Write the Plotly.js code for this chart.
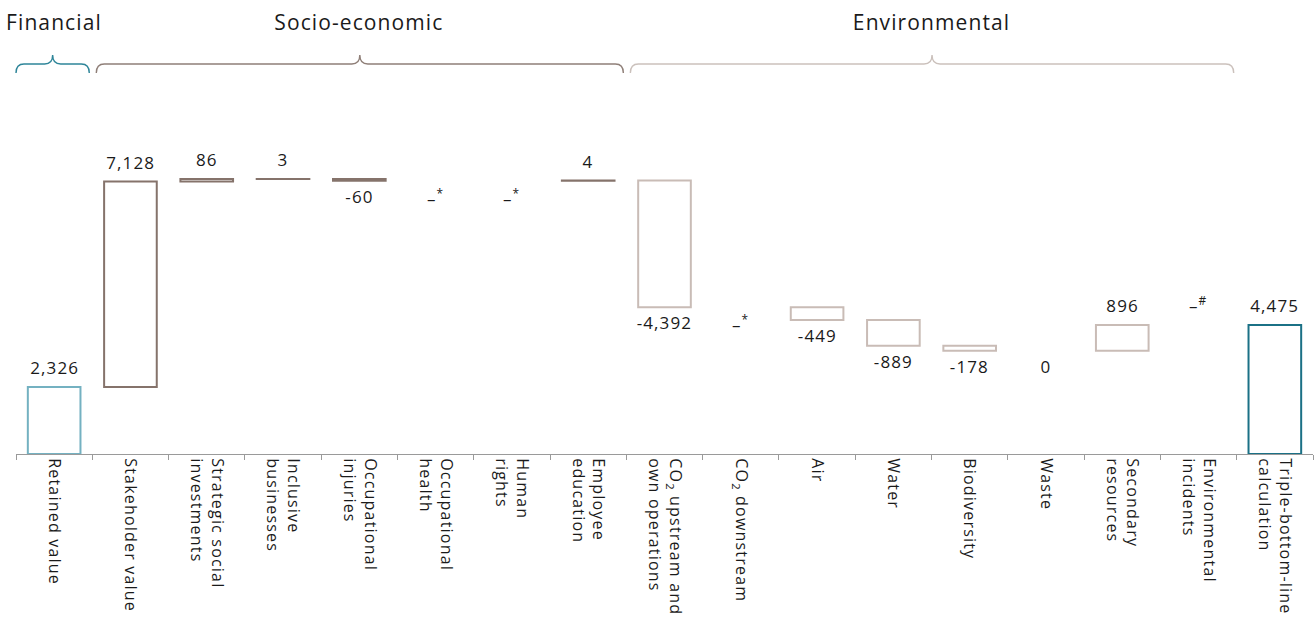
<!DOCTYPE html>
<html><head><meta charset="utf-8">
<script src="https://cdn.plot.ly/plotly-3.0.1.min.js"></script>
<style>
html,body{margin:0;padding:0;background:#fff}
#chart .xtick text{letter-spacing:1.2px}
#chart .annotation-text{letter-spacing:1.1px}
</style>
</head><body><div id="chart" style="width:1315px;height:619px"></div>
<script>
// ---- data ----
const categories = ['Retained value', 'Stakeholder value', 'Strategic social<br>investments', 'Inclusive<br>businesses',
  'Occupational<br>injuries', 'Occupational<br>health', 'Human<br>rights', 'Employee<br>education',
  'CO<sub>2</sub> upstream and<br>own operations', 'CO<sub>2</sub> downstream', 'Air', 'Water', 'Biodiversity',
  'Waste', 'Secondary<br>resources', 'Environmental<br>incidents', 'Triple-bottom-line<br>calculation'];
const values = [2326, 7128, 86, 3, -60, 0, 0, 4, -4392, 0, -449, -889, -178, 0, 896, 0, 4475];
const measures = ['absolute', 'relative', 'relative', 'relative', 'relative', 'relative', 'relative', 'relative',
  'relative', 'relative', 'relative', 'relative', 'relative', 'relative', 'relative', 'relative', 'total'];
const notes = ['', '', '', '', '', '*', '*', '', '', '*', '', '', '', '', '', '#', ''];
const barGroup = ['start', 'socio', 'socio', 'socio', 'socio', 'socio', 'socio', 'socio',
  'env', 'env', 'env', 'env', 'env', 'env', 'env', 'env', 'total'];
const groupNames = ['Financial', 'Socio-economic', 'Environmental'];
const groupFirst = [0, 1, 8];
const groupLast = [0, 7, 15];

// ---- styles ----
const barColorMap = {start: '#74b1c1', socio: '#85736b', env: '#c9bcb6', total: '#1b7186'};
const braceColors = ['#2e8599', '#8f7f78', '#cbc1bc'];
const FONT = 'Open Sans, Noto Sans, sans-serif';

// ---- waterfall geometry ----
let running = 0;
const bases = [], heights = [];
values.forEach((v, i) => {
  if (measures[i] === 'absolute') { bases.push(0); heights.push(v); running = v; }
  else if (measures[i] === 'total') { bases.push(0); heights.push(running); }
  else { bases.push(running); heights.push(v); running += v; }
});
const lineColors = values.map((v, i) => v === 0 && measures[i] === 'relative' ? 'rgba(0,0,0,0)' : barColorMap[barGroup[i]]);

function fmt(v) {
  const s = Math.abs(v).toString().replace(/\B(?=(\d{3})+(?!\d))/g, ',');
  return (v < 0 ? '-' : '') + s;
}

// label direction: positive -> above, negative -> below, zero -> follow last non-zero step
const annotations = [];
let lastDir = 1;
values.forEach((v, i) => {
  let dir = v > 0 ? 1 : (v < 0 ? -1 : lastDir);
  if (v !== 0) lastDir = dir;
  const lo = Math.min(bases[i], bases[i] + heights[i]);
  const hi = Math.max(bases[i], bases[i] + heights[i]);
  const txt = (v === 0 && notes[i]) ? '–<sup>' + notes[i] + '</sup>' : fmt(v);
  annotations.push({
    x: categories[i], y: dir > 0 ? hi : lo, xref: 'x', yref: 'y',
    text: txt, showarrow: false,
    yanchor: dir > 0 ? 'bottom' : 'top', yshift: dir > 0 ? 6 : -2,
    font: {family: FONT, size: 17, color: '#1a1a1a'}
  });
});

// ---- group headers and braces (paper coordinates) ----
const L = 16, R = 2, T = 90, B = 165, W = 1315, H = 619;
const pw = W - L - R, ph = H - T - B, n = categories.length;
const px = X => (X - L) / pw;
const py = Y => (H - B - Y) / ph;
const shapes = [];
groupNames.forEach((g, k) => {
  const xL = L + groupFirst[k] * pw / n + (k === 0 ? 0 : 4);
  const xR = L + (groupLast[k] + 1) * pw / n - 3;
  const xm = (xL + xR) / 2;
  const yE = 73, yH = 64, yP = 55, r = 8;
  const P = (X, Y) => px(X).toFixed(5) + ',' + py(Y).toFixed(5);
  const path = 'M' + P(xL, yE) + ' Q' + P(xL, yH) + ' ' + P(xL + r, yH) +
    ' L' + P(xm - r, yH) + ' Q' + P(xm, yH) + ' ' + P(xm, yP) +
    ' Q' + P(xm, yH) + ' ' + P(xm + r, yH) + ' L' + P(xR - r, yH) +
    ' Q' + P(xR, yH) + ' ' + P(xR, yE);
  shapes.push({type: 'path', xref: 'paper', yref: 'paper', path: path,
    line: {color: braceColors[k], width: 1.4}});
  annotations.push({
    x: px((L + groupFirst[k] * pw / n + L + (groupLast[k] + 1) * pw / n) / 2), y: py(22),
    xref: 'paper', yref: 'paper', text: g, showarrow: false,
    xanchor: 'center', yanchor: 'middle',
    font: {family: FONT, size: 21, color: '#1a1a1a'}
  });
});

const trace = {
  type: 'bar', x: categories, y: heights, base: bases, width: 0.69,
  marker: {color: 'rgba(255,255,255,0)', line: {color: lineColors, width: 2}},
  hoverinfo: 'skip', showlegend: false
};

const layout = {
  width: W, height: H,
  margin: {l: L, r: R, t: T, b: B, pad: 0},
  paper_bgcolor: '#fff', plot_bgcolor: '#fff',
  font: {family: FONT, size: 16, color: '#1a1a1a'},
  showlegend: false,
  xaxis: {
    type: 'category', tickangle: 90, automargin: false,
    showline: true, linecolor: '#9a9a9a', linewidth: 1,
    ticks: 'outside', tickson: 'boundaries', ticklen: 5, tickcolor: '#9a9a9a', tickwidth: 1,
    showgrid: false, tickfont: {family: FONT, size: 16, color: '#1a1a1a'}
  },
  yaxis: {range: [0, 12630], visible: false, showgrid: false, zeroline: false, fixedrange: true},
  annotations: annotations,
  shapes: shapes
};

Plotly.newPlot('chart', [trace], layout, {staticPlot: true, displayModeBar: false});
</script></body></html>
